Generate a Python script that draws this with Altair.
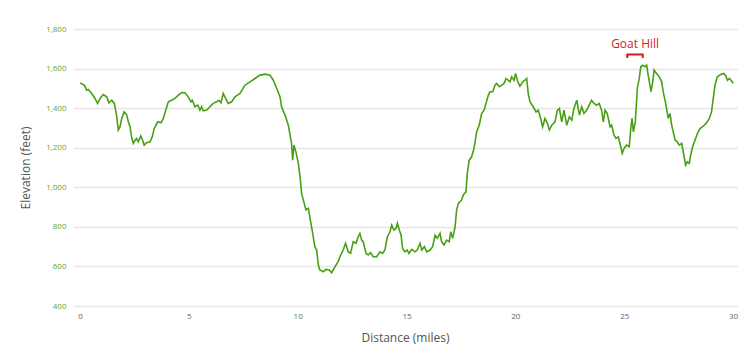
import altair as alt
import pandas as pd

# Elevation profile (distance in miles, elevation in feet)
miles = [0.00, 0.05, 0.20, 0.31, 0.38, 0.54, 0.69, 0.81, 0.92, 1.07, 1.23, 1.33, 1.46, 1.58, 1.69, 1.76, 1.84, 1.92,
         2.03, 2.15, 2.22, 2.30, 2.37, 2.45, 2.53, 2.60, 2.68, 2.79, 2.88, 2.95, 3.06, 3.22, 3.32, 3.41, 3.57, 3.72,
         3.83, 3.94, 4.06, 4.21, 4.36, 4.52, 4.67, 4.82, 4.97, 5.10, 5.16, 5.28, 5.41, 5.51, 5.59, 5.66, 5.82, 5.97,
         6.12, 6.28, 6.38, 6.48, 6.58, 6.69, 6.81, 6.97, 7.12, 7.35, 7.58, 7.81, 8.04, 8.27, 8.50, 8.73, 8.88, 9.04,
         9.19, 9.26, 9.42, 9.57, 9.65, 9.72, 9.77, 9.83, 9.92, 10.03, 10.11, 10.18, 10.26, 10.38, 10.49, 10.57, 10.69,
         10.79, 10.87, 10.95, 11.02, 11.18, 11.30, 11.45, 11.56, 11.71, 11.86, 11.94, 12.09, 12.20, 12.32, 12.43,
         12.55, 12.68, 12.78, 12.86, 12.94, 13.01, 13.14, 13.24, 13.35, 13.47, 13.63, 13.78, 13.90, 14.01, 14.12,
         14.24, 14.32, 14.42, 14.52, 14.58, 14.67, 14.75, 14.82, 14.93, 15.03, 15.11, 15.24, 15.39, 15.49, 15.62,
         15.70, 15.82, 15.93, 16.08, 16.20, 16.31, 16.41, 16.54, 16.61, 16.72, 16.84, 16.96, 17.03, 17.12, 17.23,
         17.30, 17.38, 17.53, 17.61, 17.73, 17.79, 17.88, 17.99, 18.10, 18.22, 18.34, 18.45, 18.56, 18.65, 18.76,
         18.83, 18.96, 19.06, 19.14, 19.26, 19.37, 19.48, 19.57, 19.67, 19.75, 19.83, 19.94, 20.01, 20.11, 20.21,
         20.34, 20.44, 20.52, 20.59, 20.67, 20.82, 20.95, 21.05, 21.16, 21.25, 21.36, 21.47, 21.56, 21.67, 21.82,
         21.93, 22.02, 22.13, 22.23, 22.36, 22.48, 22.59, 22.69, 22.82, 22.94, 23.05, 23.15, 23.28, 23.39, 23.50,
         23.61, 23.73, 23.85, 23.96, 24.04, 24.12, 24.22, 24.35, 24.42, 24.53, 24.62, 24.73, 24.84, 24.91, 24.99,
         25.11, 25.23, 25.30, 25.36, 25.42, 25.51, 25.60, 25.69, 25.76, 25.85, 25.95, 26.03, 26.10, 26.18, 26.23,
         26.31, 26.37, 26.49, 26.61, 26.72, 26.79, 26.92, 27.02, 27.10, 27.18, 27.25, 27.34, 27.44, 27.53, 27.64,
         27.74, 27.82, 27.90, 27.99, 28.05, 28.14, 28.25, 28.36, 28.48, 28.60, 28.76, 28.91, 29.01, 29.09, 29.17,
         29.27, 29.43, 29.58, 29.67, 29.74, 29.83, 29.94, 30.00]
elevation = [1526, 1525, 1516, 1491, 1494, 1474, 1449, 1424, 1449, 1469, 1457, 1427, 1440, 1424, 1356, 1289, 1306, 1348,
             1381, 1365, 1331, 1306, 1255, 1222, 1238, 1247, 1230, 1259, 1238, 1213, 1225, 1230, 1255, 1297, 1331, 1326,
             1348, 1390, 1432, 1440, 1449, 1466, 1479, 1478, 1457, 1432, 1440, 1407, 1415, 1390, 1407, 1386, 1390, 1407,
             1424, 1432, 1440, 1427, 1474, 1449, 1424, 1432, 1457, 1474, 1516, 1533, 1550, 1567, 1572, 1567, 1541, 1499,
             1457, 1407, 1365, 1314, 1264, 1222, 1137, 1213, 1179, 1121, 1053, 969, 935, 885, 893, 843, 767,
             700, 683, 607, 582, 573, 585, 582, 568, 598, 624, 649, 683, 717, 674, 666,
             725, 717, 750, 767, 733, 725, 666, 658, 669, 649, 649, 674, 666, 683, 750,
             775, 809, 784, 792, 818, 784, 758, 691, 674, 683, 666, 686, 674, 683, 717,
             683, 700, 674, 683, 700, 758, 742, 767, 725, 708, 733, 725, 775, 742, 800,
             885, 919, 935, 961, 977, 1070, 1137, 1154, 1196, 1280, 1314, 1373, 1390, 1424, 1466,
             1483, 1483, 1516, 1525, 1508, 1516, 1525, 1550, 1541, 1533, 1558, 1541, 1575, 1533, 1511,
             1533, 1541, 1550, 1474, 1432, 1407, 1381, 1390, 1348, 1306, 1348, 1323, 1289, 1314, 1331,
             1390, 1398, 1331, 1390, 1314, 1356, 1339, 1398, 1440, 1365, 1407, 1373, 1390, 1415, 1440,
             1424, 1415, 1424, 1390, 1331, 1390, 1373, 1306, 1314, 1264, 1247, 1255, 1205, 1171, 1196,
             1213, 1205, 1297, 1348, 1280, 1331, 1499, 1550, 1609, 1617, 1609, 1617, 1567, 1516, 1483,
             1533, 1592, 1575, 1558, 1533, 1483, 1415, 1348, 1373, 1314, 1280, 1238, 1230, 1213, 1222,
             1162, 1112, 1129, 1121, 1162, 1205, 1238, 1272, 1297, 1306, 1323, 1348, 1381, 1449, 1516,
             1558, 1570, 1575, 1563, 1541, 1550, 1536, 1525]

y_ticks = [400, 600, 800, 1000, 1200, 1400, 1600, 1800]
x_ticks = [0, 5, 10, 15, 20, 25, 30]

# Annotation "Goat Hill" with a bracket above the peak
label_text = ["Goat Hill"]
label_mile = [25.5]
label_elev = [1726]
bracket_mile = [25.14, 25.14, 25.85, 25.85]
bracket_elev = [1654, 1671, 1671, 1654]
bracket_order = [0, 1, 2, 3]

FONT = "Open Sans"
df = pd.DataFrame({"mile": miles, "elev": elevation, "i": list(range(len(miles)))})
bdf = pd.DataFrame({"mile": bracket_mile, "elev": bracket_elev, "o": bracket_order})
tdf = pd.DataFrame({"mile": label_mile, "elev": label_elev, "t": label_text})

xs = alt.Scale(domain=[-0.32, 30.18], nice=False, zero=False)
ys = alt.Scale(domain=[400, 1800], nice=False, zero=False)

line = alt.Chart(df).mark_line(color="#47a014", strokeWidth=1.6, clip=True).encode(
    x=alt.X("mile:Q", scale=xs, axis=alt.Axis(
        values=x_ticks, tickCount=20, title="Distance (miles)", grid=False, ticks=False, domain=False,
        labelColor="#666666", labelFontSize=8, labelFont=FONT, labelPadding=6,
        titleFont=FONT, titleFontSize=12, titleFontWeight="normal", titleColor="#555555",
        titlePadding=12)),
    y=alt.Y("elev:Q", scale=ys, axis=alt.Axis(
        values=y_ticks, tickCount=20, format=",.0f", formatType="number", title="Elevation (feet)",
        grid=True, gridColor="#e6e6e6", labelOverlap=False,
        gridWidth=1.5, ticks=False, domain=False,
        labelColor="#5fa82a", labelFontSize=8, labelFont=FONT, labelPadding=7,
        titleFont=FONT, titleFontSize=12, titleFontWeight="normal", titleColor="#555555",
        titlePadding=13)),
    order="i:Q",
)

bracket = alt.Chart(bdf).mark_line(color="#e0141e", strokeWidth=2).encode(
    x=alt.X("mile:Q", scale=xs), y=alt.Y("elev:Q", scale=ys), order="o:Q")

text = alt.Chart(tdf).mark_text(color="#e0141e", fontSize=12, font=FONT).encode(
    x=alt.X("mile:Q", scale=xs), y=alt.Y("elev:Q", scale=ys), text="t:N")

chart = alt.layer(line, bracket, text).properties(
    width=664, height=277,
    padding={"left": 65, "top": 21, "right": 5, "bottom": 40},
    autosize="none",
).configure_view(stroke=None)

chart.save("out.html", embed_options={"renderer": "svg", "actions": False})
